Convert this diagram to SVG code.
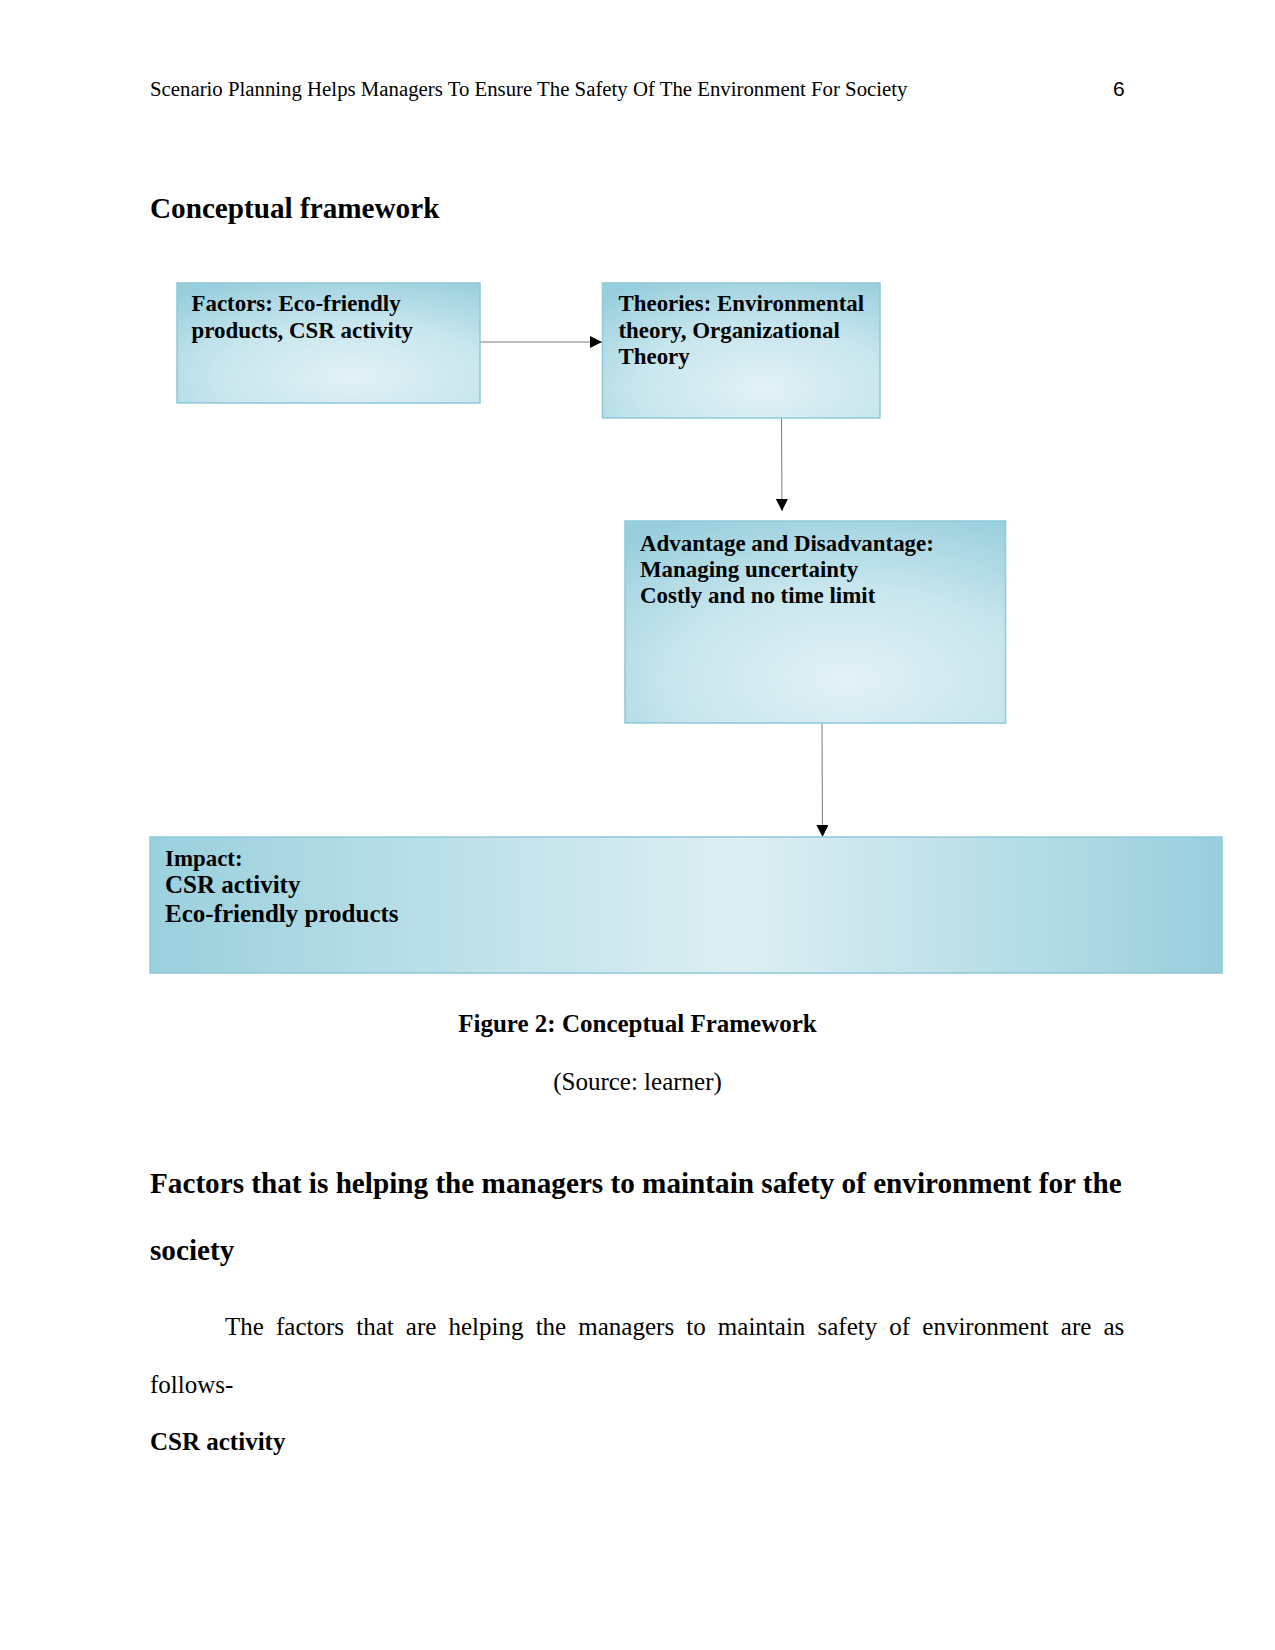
<svg xmlns="http://www.w3.org/2000/svg" width="1275" height="1650" viewBox="0 0 1275 1650">
<style>
.serif{font-family:"Liberation Serif","Times New Roman",serif;fill:#000}
.hdr{font-size:20.8px}
.h{font-size:29.2px;font-weight:bold}
.body{font-size:25px}
.bold{font-weight:bold}
.bx{font-size:22.9px;font-weight:bold}
.box{stroke:#8ec9d7;stroke-width:1.5}
.conn{stroke:#7a7a7a;stroke-width:1;fill:none}
</style>
<defs>
<radialGradient id="gd" cx="0.58" cy="0.78" r="0.9" fx="0.58" fy="0.78">
<stop offset="0" stop-color="#e2f1f6"/>
<stop offset="0.5" stop-color="#c8e6ee"/>
<stop offset="1" stop-color="#96cedc"/>
</radialGradient>
<linearGradient id="gh" x1="0" y1="0" x2="1" y2="0">
<stop offset="0" stop-color="#9ad0dd"/>
<stop offset="0.55" stop-color="#ddeff4"/>
<stop offset="1" stop-color="#98cfdc"/>
</linearGradient>
<marker id="ah" viewBox="0 0 12 12" refX="12" refY="6" markerWidth="12" markerHeight="12" markerUnits="userSpaceOnUse" orient="auto">
<path d="M0,0 L12,6 L0,12 Z" fill="#000"/>
</marker>
</defs>
<rect width="1275" height="1650" fill="#fff"/>

<text class="serif hdr" x="150" y="96">Scenario Planning Helps Managers To Ensure The Safety Of The Environment For Society</text>
<text x="1113" y="96" style="font-family:'Liberation Sans',Arial,sans-serif;font-size:21px">6</text>

<text class="serif h" x="150" y="218">Conceptual framework</text>

<g id="connectors">
<line class="conn" x1="480" y1="342" x2="602" y2="342" marker-end="url(#ah)"/>
<line class="conn" x1="781.5" y1="418" x2="782" y2="511" marker-end="url(#ah)"/>
<line class="conn" x1="822" y1="723" x2="822.5" y2="837" marker-end="url(#ah)"/>
</g>

<g id="node-factors">
<rect class="box" x="177" y="283" width="303" height="120" fill="url(#gd)"/>
<text class="serif bx" x="191.5" y="311">Factors: Eco-friendly</text>
<text class="serif bx" x="191.5" y="337.5">products, CSR activity</text>
</g>

<g id="node-theories">
<rect class="box" x="602.5" y="283" width="277.5" height="135" fill="url(#gd)"/>
<text class="serif bx" x="618.5" y="311">Theories: Environmental</text>
<text class="serif bx" x="618.5" y="337.5">theory, Organizational</text>
<text class="serif bx" x="618.5" y="364">Theory</text>
</g>

<g id="node-advantage">
<rect class="box" x="625" y="521" width="380.5" height="202" fill="url(#gd)"/>
<text class="serif bx" x="640" y="550.5">Advantage and Disadvantage:</text>
<text class="serif bx" x="640" y="576.5">Managing uncertainty</text>
<text class="serif bx" x="640" y="602.5">Costly and no time limit</text>
</g>

<g id="node-impact">
<rect class="box" x="150" y="837" width="1072" height="136" fill="url(#gh)"/>
<text class="serif bx" x="165" y="865.5">Impact:</text>
<text class="serif body bold" x="165" y="893">CSR activity</text>
<text class="serif body bold" x="165" y="921.5">Eco-friendly products</text>
</g>

<text class="serif body bold" x="637.5" y="1031.5" text-anchor="middle">Figure 2: Conceptual Framework</text>
<text class="serif body" x="637.5" y="1089.5" text-anchor="middle">(Source: learner)</text>

<text class="serif h" x="150" y="1193">Factors that is helping the managers to maintain safety of environment for the</text>
<text class="serif h" x="150" y="1260">society</text>

<text class="serif body" x="225" y="1335" word-spacing="5.9">The factors that are helping the managers to maintain safety of environment are as</text>
<text class="serif body" x="150" y="1393">follows-</text>
<text class="serif body bold" x="150" y="1450">CSR activity</text>
</svg>
